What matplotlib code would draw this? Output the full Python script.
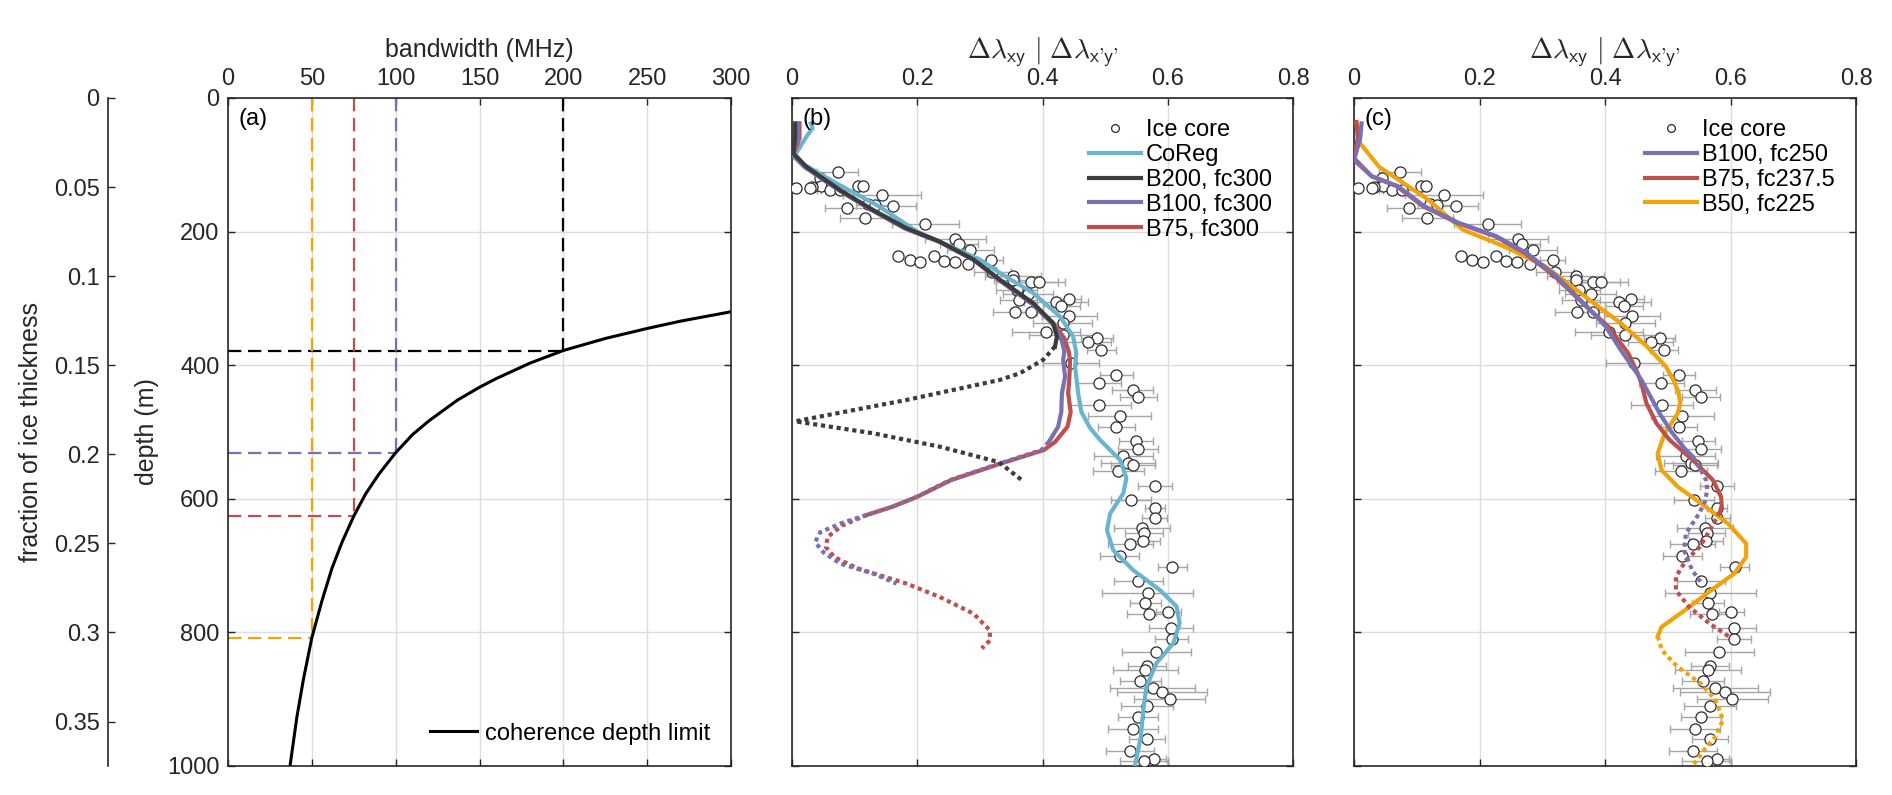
import matplotlib
matplotlib.use("Agg")
import matplotlib.pyplot as plt
from matplotlib.ticker import FuncFormatter

plt.rcParams['font.family'] = ['Liberation Sans', 'DejaVu Sans']
plt.rcParams['mathtext.fontset'] = 'cm'

# ---- panel (a): coherence depth limit ----
bw_curve = [300, 270, 250, 225, 200, 180, 160, 150, 137, 120, 110, 100, 90, 82, 75, 68, 62,
            56, 50, 45, 41, 37]
depth_curve = [320, 334, 345, 360, 378, 397, 420, 433, 452, 483, 504, 531, 563, 593, 626, 665,
               704, 753, 808, 870, 928, 1000]
bw_marks = [200, 100, 75, 50]
depth_marks = [378, 531, 626, 808]
mark_colors = ['black', '#7a70b4', '#bf4f4c', '#f0a30a']
ice_thickness = 2667

# ---- ice core measurements ----
core_depth = [111, 120, 132, 132, 132, 133, 134, 134, 138, 138, 145, 158, 160, 162, 164, 179,
              189, 211, 219, 227, 236, 237, 242, 243, 244, 246, 246, 248, 260, 266, 272, 276,
              276, 287, 294, 301, 302, 306, 312, 320, 320, 327, 337, 350, 355, 360, 366, 377,
              397, 415, 426, 437, 448, 459, 476, 492, 514, 526, 536, 547, 549, 558, 581, 602,
              614, 629, 644, 651, 663, 668, 686, 702, 723, 741, 756, 769, 773, 794, 810, 829,
              850, 856, 873, 883, 889, 900, 910, 926, 944, 960, 977, 990, 993]
core_val = [0.073, 0.045, 0.046, 0.106, 0.114, 0.032, 0.007, 0.028, 0.060, 0.076, 0.144, 0.121,
            0.132, 0.162, 0.088, 0.117, 0.213, 0.261, 0.267, 0.285, 0.170, 0.226, 0.317, 0.188,
            0.242, 0.205, 0.260, 0.281, 0.320, 0.353, 0.353, 0.381, 0.394, 0.359, 0.377, 0.442,
            0.362, 0.422, 0.430, 0.356, 0.381, 0.443, 0.432, 0.406, 0.432, 0.487, 0.473, 0.494,
            0.446, 0.518, 0.490, 0.544, 0.553, 0.491, 0.523, 0.518, 0.549, 0.553, 0.529, 0.537,
            0.544, 0.521, 0.579, 0.542, 0.579, 0.579, 0.559, 0.562, 0.561, 0.540, 0.523, 0.607,
            0.553, 0.568, 0.564, 0.601, 0.570, 0.605, 0.606, 0.582, 0.567, 0.564, 0.556, 0.576,
            0.591, 0.603, 0.567, 0.553, 0.544, 0.567, 0.540, 0.578, 0.562]
core_err = [0.033, 0.0, 0.0, 0.0, 0.0, 0.0, 0.0, 0.0, 0.02, 0.03, 0.062, 0.0,
            0.03, 0.036, 0.035, 0.04, 0.053, 0.048, 0.03, 0.038, 0.0, 0.0, 0.02, 0.0,
            0.0, 0.0, 0.0, 0.0, 0.03, 0.045, 0.03, 0.055, 0.03, 0.033, 0.04, 0.02,
            0.03, 0.051, 0.03, 0.035, 0.02, 0.044, 0.047, 0.054, 0.054, 0.025, 0.036, 0.023,
            0.045, 0.026, 0.036, 0.033, 0.03, 0.05, 0.05, 0.029, 0.027, 0.032, 0.047, 0.043,
            0.035, 0.041, 0.027, 0.032, 0.016, 0.02, 0.045, 0.03, 0.027, 0.036, 0.031, 0.023,
            0.039, 0.073, 0.025, 0.02, 0.035, 0.035, 0.027, 0.055, 0.03, 0.052, 0.033, 0.068,
            0.072, 0.057, 0.041, 0.032, 0.04, 0.029, 0.038, 0.02, 0.039]

# ---- panel (b) models ----
coreg_d = [38, 45, 55, 85, 100, 130, 160, 200, 242, 262, 292, 327, 357, 382, 402, 442, 470, 494,
           512, 542, 569, 592, 622, 647, 677, 707, 737, 761, 786, 816, 846, 881, 916, 956, 998]
coreg_v = [0.030, 0.033, 0.025, 0.005, 0.020, 0.075, 0.135, 0.200, 0.300, 0.332, 0.385, 0.428,
           0.449, 0.454, 0.452, 0.457, 0.462, 0.476, 0.492, 0.524, 0.534, 0.529, 0.508, 0.503,
           0.513, 0.545, 0.588, 0.614, 0.619, 0.609, 0.582, 0.566, 0.561, 0.557, 0.548]

b200_d = [38, 60, 83, 103, 138, 168, 195, 215, 242, 272, 307, 337, 357, 372]
b200_v = [0.005, 0.005, 0.002, 0.023, 0.077, 0.130, 0.183, 0.236, 0.290, 0.332, 0.385, 0.417, 0.423, 0.420]
b200_dot_d = [372, 392, 412, 422, 452, 484, 502, 522, 545, 572]
b200_dot_v = [0.420, 0.401, 0.364, 0.332, 0.183, 0.005, 0.130, 0.236, 0.330, 0.367]

b100_d = [38, 60, 85, 103, 138, 168, 195, 215, 242, 272, 307, 337, 360, 380, 392, 417, 442, 470, 492, 515]
b100_v = [0.010, 0.010, 0.000, 0.020, 0.075, 0.128, 0.180, 0.235, 0.290, 0.330, 0.382, 0.415, 0.430,
          0.435, 0.433, 0.436, 0.431, 0.430, 0.425, 0.410]
b100_dot_d = [515, 527, 547, 572, 597, 612, 624, 636, 650, 665, 680, 697, 712, 727]
b100_dot_v = [0.410, 0.398, 0.332, 0.252, 0.199, 0.160, 0.120, 0.080, 0.045, 0.037, 0.050, 0.077, 0.130, 0.167]

b75_d = [38, 60, 85, 103, 138, 168, 195, 215, 242, 272, 307, 337, 360, 380, 392, 417, 442, 470,
         492, 515, 527, 547, 572, 597, 612, 624]
b75_v = [0.012, 0.012, 0.002, 0.020, 0.075, 0.128, 0.180, 0.235, 0.290, 0.330, 0.382, 0.417, 0.435,
         0.442, 0.444, 0.443, 0.441, 0.445, 0.440, 0.420, 0.402, 0.334, 0.254, 0.200, 0.160, 0.120]
b75_dot_d = [624, 640, 657, 672, 687, 704, 727, 747, 772, 797, 812, 824]
b75_dot_v = [0.120, 0.080, 0.057, 0.054, 0.067, 0.104, 0.183, 0.236, 0.290, 0.316, 0.316, 0.303]

# ---- panel (c) models ----
c100_d = [38, 60, 93, 117, 132, 162, 187, 207, 232, 267, 312, 342, 377, 422, 472, 500, 527, 537]
c100_v = [0.012, 0.010, 0.000, 0.028, 0.070, 0.112, 0.167, 0.227, 0.275, 0.323, 0.371, 0.401, 0.425,
          0.458, 0.487, 0.506, 0.529, 0.540]
c100_dot_d = [537, 555, 572, 587, 605, 622, 652, 677, 707, 724]
c100_dot_v = [0.540, 0.552, 0.561, 0.563, 0.559, 0.550, 0.529, 0.526, 0.539, 0.552]

c75_d = [36, 60, 90, 117, 132, 162, 187, 207, 232, 267, 312, 342, 382, 412, 427, 457, 487, 512,
         542, 572, 597, 610, 620]
c75_v = [0.004, 0.006, 0.000, 0.028, 0.068, 0.110, 0.165, 0.225, 0.272, 0.320, 0.370, 0.405, 0.437,
         0.452, 0.458, 0.466, 0.482, 0.503, 0.540, 0.572, 0.585, 0.586, 0.583]
c75_dot_d = [620, 647, 672, 692, 717, 737, 762, 787, 809]
c75_dot_v = [0.583, 0.567, 0.551, 0.529, 0.513, 0.513, 0.534, 0.567, 0.602]

c50_d = [38, 68, 103, 152, 197, 222, 252, 282, 312, 337, 372, 402, 422, 440, 457, 472, 502, 532,
         557, 582, 607, 637, 667, 687, 712, 737, 767, 792, 806]
c50_v = [0.004, 0.010, 0.040, 0.118, 0.173, 0.239, 0.305, 0.347, 0.389, 0.425, 0.467, 0.497, 0.509,
         0.517, 0.520, 0.516, 0.495, 0.484, 0.490, 0.516, 0.553, 0.596, 0.625, 0.625, 0.606, 0.569,
         0.527, 0.490, 0.484]
c50_dot_d = [806, 827, 851, 876, 901, 931, 956, 976, 999]
c50_dot_v = [0.484, 0.491, 0.515, 0.552, 0.576, 0.588, 0.576, 0.558, 0.540]

C_BLUE = '#6ab4cf'
C_DARK = '#3c3c3c'
C_PURPLE = '#7a70b4'
C_RED = '#bf4f4c'
C_ORANGE = '#f0a30a'
AX_COL = '#262626'
FS = 17        # tick labels
FS_LAB = 18    # axis labels
FS_LEG = 17    # legends / panel letters

W, H = 1892, 795
fig = plt.figure(figsize=(W / 100, H / 100), dpi=100)
bottom = (H - 766) / H
height = 668 / H
ax_a = fig.add_axes([228 / W, bottom, 503 / W, height])
ax_b = fig.add_axes([792 / W, bottom, 501 / W, height])
ax_c = fig.add_axes([1354 / W, bottom, 502 / W, height])
ax_f = fig.add_axes([108 / W, bottom, 0.0001, height])

fmt = FuncFormatter(lambda v, p: '%g' % v)


def style(ax):
    for s in ax.spines.values():
        s.set_color(AX_COL)
        s.set_linewidth(1.2)
    ax.tick_params(direction='in', top=True, bottom=True, left=True, right=True,
                   labeltop=True, labelbottom=False, length=5, width=1.0,
                   colors=AX_COL, labelsize=FS, pad=6)
    ax.xaxis.set_label_position('top')
    ax.grid(True, color='#dcdcdc', linewidth=1.0)
    ax.set_axisbelow(True)
    ax.set_ylim(1000, 0)
    ax.set_yticks(range(0, 1001, 200))
    ax.xaxis.set_major_formatter(fmt)


# panel (a)
style(ax_a)
ax_a.set_xlim(0, 300)
ax_a.set_xticks(range(0, 301, 50))
ax_a.set_xlabel('bandwidth (MHz)', fontsize=FS_LAB, color=AX_COL, labelpad=8)
ax_a.set_ylabel('depth (m)', fontsize=FS_LAB, color=AX_COL, labelpad=6)
for b, d, c in zip(bw_marks, depth_marks, mark_colors):
    ax_a.plot([b, b], [0, d], '--', color=c, lw=1.6, dashes=(6, 3))
    ax_a.plot([0, b], [d, d], '--', color=c, lw=1.6, dashes=(6, 3))
ax_a.plot(bw_curve, depth_curve, color='black', lw=2.2, label='coherence depth limit')
ax_a.legend(loc='lower right', frameon=False, fontsize=FS_LEG, handlelength=2.0,
            handletextpad=0.3, borderaxespad=0.5)
ax_a.text(0.02, 0.985, '(a)', transform=ax_a.transAxes, va='top', ha='left', fontsize=FS_LEG)

# fraction-of-thickness axis
ax_f.set_ylim(1000 / ice_thickness, 0)
ax_f.set_yticks([0, 0.05, 0.1, 0.15, 0.2, 0.25, 0.3, 0.35])
ax_f.yaxis.set_major_formatter(fmt)
ax_f.set_xticks([])
for k in ['top', 'right', 'bottom']:
    ax_f.spines[k].set_visible(False)
ax_f.spines['left'].set_color(AX_COL)
ax_f.spines['left'].set_linewidth(1.2)
ax_f.tick_params(axis='y', direction='in', length=5, width=1.0, colors=AX_COL, labelsize=FS, pad=6)
ax_f.set_ylabel('fraction of ice thickness', fontsize=FS_LAB, color=AX_COL, labelpad=8)
ax_f.patch.set_visible(False)

dl_label = r"$\Delta\lambda_{\mathsf{xy}}\ |\ \Delta\lambda_{\mathsf{x}\text{'}\mathsf{y}\text{'}}$"


def ice_core(ax):
    ax.errorbar(core_val, core_depth, xerr=core_err, fmt='none', ecolor='#a6a6a6',
                elinewidth=1.0, capsize=3, capthick=1.0, zorder=2)
    h, = ax.plot(core_val, core_depth, 'o', mfc='white', mec='#2a2a2a', mew=0.9, ms=8,
                 zorder=3, label='Ice core')
    return h


for ax in (ax_b, ax_c):
    style(ax)
    ax.set_xlim(0, 0.8)
    ax.set_xticks([0, 0.2, 0.4, 0.6, 0.8])
    ax.tick_params(labelleft=False)
    ax.set_xlabel(dl_label, fontsize=20, color=AX_COL, labelpad=6)

LW = 3.0
DOT = (1, 0.9)
leg_kw = dict(loc='upper right', frameon=False, fontsize=FS_LEG, handlelength=2.2,
              handletextpad=0.2, labelspacing=0.12, borderaxespad=0.5, markerscale=0.7)
# panel (b)
ice_core(ax_b)
ax_b.plot(coreg_v, coreg_d, color=C_BLUE, lw=LW, label='CoReg', zorder=4)
ax_b.plot(b75_v, b75_d, color=C_RED, lw=LW, label='B75, fc300', zorder=5)
ax_b.plot(b100_v, b100_d, color=C_PURPLE, lw=LW, label='B100, fc300', zorder=6)
ax_b.plot(b200_v, b200_d, color=C_DARK, lw=LW, label='B200, fc300', zorder=7)
ax_b.plot(b200_dot_v, b200_dot_d, color=C_DARK, lw=LW, dashes=DOT, zorder=7)
ax_b.plot(b75_dot_v, b75_dot_d, color=C_RED, lw=LW, dashes=DOT, zorder=5)
ax_b.plot(b100_dot_v, b100_dot_d, color=C_PURPLE, lw=LW, dashes=DOT, zorder=6)
hb, lb = ax_b.get_legend_handles_labels()
order_b = ['Ice core', 'CoReg', 'B200, fc300', 'B100, fc300', 'B75, fc300']
ax_b.legend([hb[lb.index(n)] for n in order_b], order_b, **leg_kw)
ax_b.text(0.02, 0.985, '(b)', transform=ax_b.transAxes, va='top', ha='left', fontsize=FS_LEG, zorder=8)

# panel (c)
ice_core(ax_c)
ax_c.plot(c50_v, c50_d, color=C_ORANGE, lw=LW, label='B50, fc225', zorder=4)
ax_c.plot(c75_v, c75_d, color=C_RED, lw=LW, label='B75, fc237.5', zorder=5)
ax_c.plot(c100_v, c100_d, color=C_PURPLE, lw=LW, label='B100, fc250', zorder=6)
ax_c.plot(c50_dot_v, c50_dot_d, color=C_ORANGE, lw=LW, dashes=DOT, zorder=4)
ax_c.plot(c75_dot_v, c75_dot_d, color=C_RED, lw=LW, dashes=DOT, zorder=5)
ax_c.plot(c100_dot_v, c100_dot_d, color=C_PURPLE, lw=LW, dashes=DOT, zorder=6)
hc, lc = ax_c.get_legend_handles_labels()
order_c = ['Ice core', 'B100, fc250', 'B75, fc237.5', 'B50, fc225']
ax_c.legend([hc[lc.index(n)] for n in order_c], order_c, **leg_kw)
ax_c.text(0.02, 0.985, '(c)', transform=ax_c.transAxes, va='top', ha='left', fontsize=FS_LEG, zorder=8)

fig.savefig('out.png', dpi=100)
